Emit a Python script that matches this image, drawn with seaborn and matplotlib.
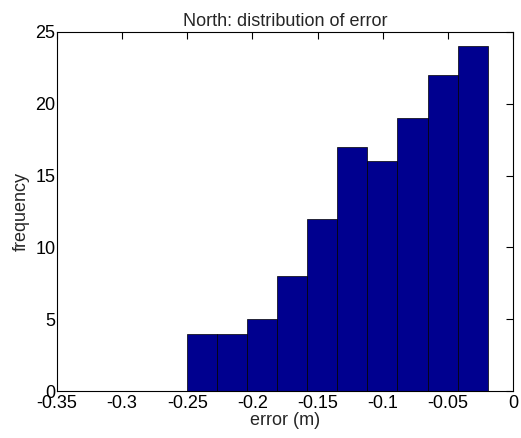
import numpy as np
import pandas as pd

import matplotlib
matplotlib.use('Agg')
import matplotlib.pyplot as plt
import seaborn as sns


# 히스토그램 데이터
bin_edges = [-0.2505, -0.2274, -0.2043, -0.1812, -0.1581, -0.1350,
             -0.1118, -0.0887, -0.0656, -0.0425, -0.0194]
counts = [4, 4, 5, 8, 12, 17, 16, 19, 22, 24]

x_ticks = [-0.35, -0.3, -0.25, -0.2, -0.15, -0.1, -0.05, 0]
x_tick_labels = ['-0.35', '-0.3', '-0.25', '-0.2', '-0.15', '-0.1', '-0.05', '0']
y_ticks = [0, 5, 10, 15, 20, 25]

sns.set_style('white')
plt.rcParams['font.family'] = ['Liberation Sans', 'DejaVu Sans']

# 막대 중심 + 가중치로 히스토그램 그리기
centers = [(bin_edges[i] + bin_edges[i + 1]) / 2 for i in range(len(counts))]
df = pd.DataFrame({'error': centers, 'count': counts})

fig = plt.figure(figsize=(5.21, 4.38), dpi=100)
ax = fig.add_axes([0.1094, 0.1073, 0.8752, 0.8197])

sns.histplot(data=df, x='error', weights='count', bins=bin_edges,
             color='#00008F', edgecolor='black', linewidth=0.5, alpha=1,
             ax=ax)

ax.set_xlim(-0.35, 0)
ax.set_ylim(0, 25)
ax.set_xticks(x_ticks)
ax.set_xticklabels(x_tick_labels)
ax.set_yticks(y_ticks)

# MATLAB 스타일 틱
ax.tick_params(direction='in', length=5, width=0.8, top=True, right=True,
               labelsize=13, colors='black')
ax.tick_params(axis='x', pad=3)
ax.tick_params(axis='y', pad=1)
for s in ax.spines.values():
    s.set_visible(True)
    s.set_color('black')
    s.set_linewidth(0.8)

ax.set_xlabel('error (m)', fontsize=13, labelpad=0)
ax.set_ylabel('frequency', fontsize=13, labelpad=4)
ax.set_title('North: distribution of error', fontsize=13, pad=4)

fig.savefig('out.png', dpi=100)
